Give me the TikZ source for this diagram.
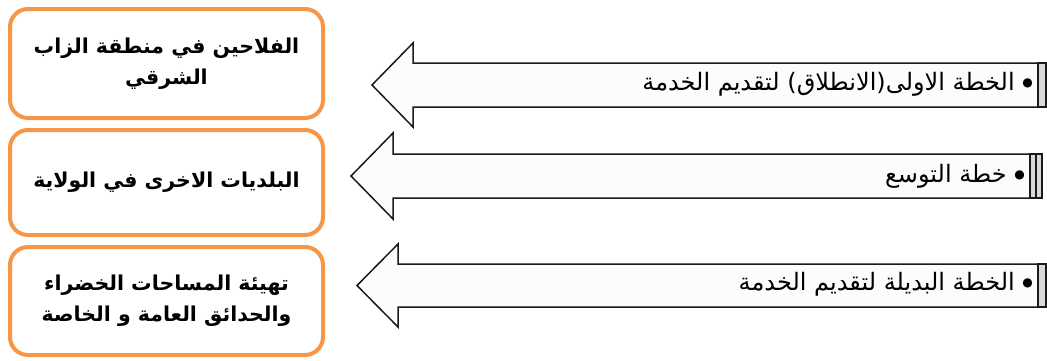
\documentclass[tikz,border=0pt]{standalone}
\usepackage{fontspec}
\newfontfamily\arabicfont[Script=Arabic]{DejaVu Sans}
\TeXXeTstate=1
\definecolor{boxorange}{HTML}{F79646}
\definecolor{arrowfill}{HTML}{FCFCFC}
\definecolor{arrowline}{HTML}{1A1A1A}
\definecolor{barfill}{HTML}{D9D9D9}
\newcommand{\bul}{\raisebox{3.5pt}{\fontsize{12}{12}\selectfont ●}}
\tikzset{
  tbox/.style={draw=boxorange, line width=4pt, rounded corners=18pt, fill=white,
    minimum width=313pt, align=center, font=\arabicfont\bfseries\fontsize{20.5}{31}\selectfont},
  arrowbody/.style={draw=arrowline, line width=1.5pt, fill=arrowfill, line join=miter},
  tailbar/.style={draw=arrowline, line width=1.1pt, fill=barfill},
  atext/.style={anchor=east, inner sep=0pt, font=\arabicfont\fontsize{24}{26}\selectfont}
}
\begin{document}
\begin{tikzpicture}[x=1pt,y=-1pt]
\useasboundingbox (0,0) rectangle (1047,360);
% boxes
\node[tbox, minimum height=109pt] (b1) at (166.5,63.5) {\beginR الفلاحين في منطقة الزاب\endR\\\beginR الشرقي\endR};
\node[tbox, minimum height=105pt] (b2) at (166.5,182.5) {\beginR البلديات الاخرى في الولاية\endR};
\node[tbox, minimum height=108pt] (b3) at (166.5,301) {\beginR تهيئة المساحات الخضراء\endR\\\beginR والحدائق العامة و الخاصة\endR};
% arrow 1
\draw[arrowbody] (1038,63) -- (413,63) -- (413,43) -- (372,85) -- (413,127) -- (413,107) -- (1038,107) -- cycle;
\draw[tailbar] (1038,63) rectangle (1046,107);
% arrow 2
\draw[arrowbody] (1030,154) -- (393,154) -- (393,133) -- (351,176) -- (393,219) -- (393,198) -- (1030,198) -- cycle;
\draw[tailbar] (1030,154) rectangle (1036,198);
\draw[tailbar] (1036,154) rectangle (1042,198);
% arrow 3
\draw[arrowbody] (1038,264) -- (398,264) -- (398,244) -- (357,285.5) -- (398,327) -- (398,307) -- (1038,307) -- cycle;
\draw[tailbar] (1038,264) rectangle (1046,307);
% arrow texts
\node[atext] (t1) at (1033,84) {\beginR \bul\ الخطة الاولى(الانطلاق) لتقديم الخدمة\endR};
\node[atext] (t2) at (1025,176) {\beginR \bul\ خطة التوسع\endR};
\node[atext] (t3) at (1033,284) {\beginR \bul\ الخطة البديلة لتقديم الخدمة\endR};
\end{tikzpicture}
\end{document}
